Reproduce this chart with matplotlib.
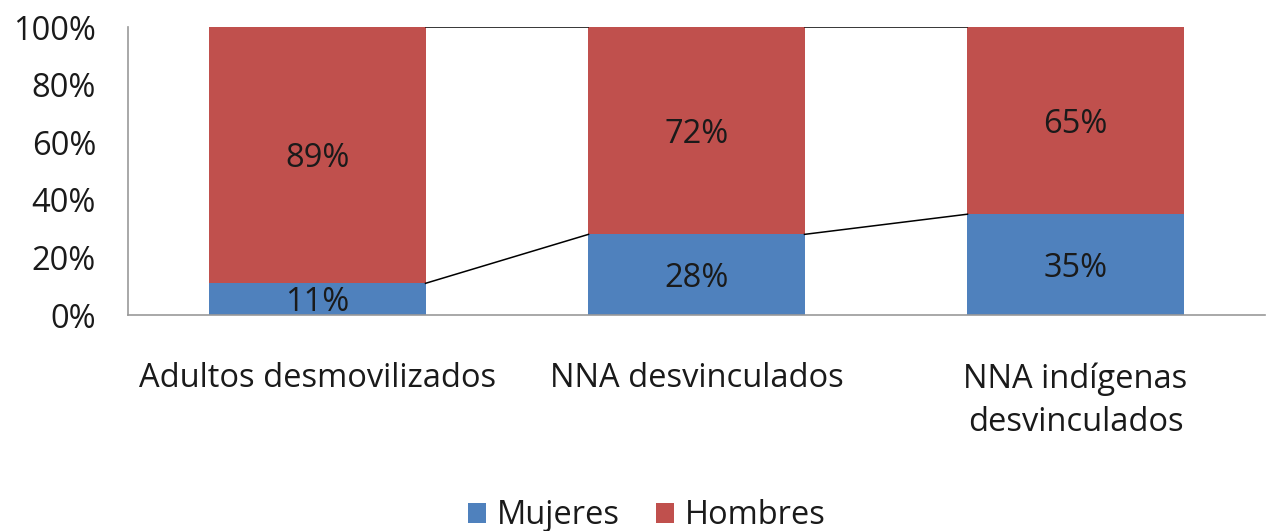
import matplotlib
matplotlib.use("Agg")
import matplotlib.pyplot as plt
import numpy as np

categories = ["Adultos desmovilizados", "NNA desvinculados", "NNA indígenas\ndesvinculados"]
mujeres = [11, 28, 35]
hombres = [89, 72, 65]
series_names = ["Mujeres", "Hombres"]
yticks = [0, 20, 40, 60, 80, 100]

blue = "#4F81BD"
red = "#C0504D"
font = "Open Sans"
fs = 23.5
tc = "#1a1a1a"

fig = plt.figure(figsize=(12.66, 5.31), dpi=100)
ax = fig.add_axes([128/1266, 1-315/531, (1265-128)/1266, 288/531])

x = np.arange(len(categories))
w = 0.57
b1 = ax.bar(x, mujeres, w, color=blue, label=series_names[0], zorder=2)
b2 = ax.bar(x, hombres, w, bottom=mujeres, color=red, label=series_names[1], zorder=2)

# series lines
cum1 = np.array(mujeres)
cum2 = np.array(mujeres) + np.array(hombres)
for i in range(len(x) - 1):
    for cum in (cum1, cum2):
        ax.plot([x[i] + w/2, x[i+1] - w/2], [cum[i], cum[i+1]], color="black", lw=1.1, zorder=3)

for i in range(len(x)):
    for val, pos in ((mujeres[i], mujeres[i]/2), (hombres[i], mujeres[i] + hombres[i]/2)):
        ax.annotate(f"{val}%", (x[i], pos), xytext=(0, -2.5), textcoords="offset points",
                    ha="center", va="center", fontsize=fs, family=font, color=tc, zorder=4)

ax.set_xlim(-0.5, len(x) - 0.5)
ax.set_ylim(0, 100)
ax.set_yticks(yticks)
ax.set_yticklabels([f"{t}%" for t in yticks], fontsize=fs, family=font, color=tc)
ax.set_xticks(x)
ax.set_xticklabels(categories, fontsize=fs, family=font, color=tc, linespacing=1.42)
ax.tick_params(axis="both", length=0)
ax.tick_params(axis="y", pad=23)
ax.tick_params(axis="x", pad=34)
for s in ["top", "right"]:
    ax.spines[s].set_visible(False)
for s in ["left", "bottom"]:
    ax.spines[s].set_color("#999999")
    ax.spines[s].set_linewidth(1.2)

leg = fig.legend(handles=[b1, b2], labels=series_names, loc="center", bbox_to_anchor=(0.511, 1-516/531),
                 ncol=2, frameon=False, prop={"family": font, "size": fs},
                 handlelength=0.55, handleheight=0.55, handletextpad=0.35, columnspacing=1.1)
for t in leg.get_texts():
    t.set_color(tc)

fig.savefig("out.png", dpi=100)
